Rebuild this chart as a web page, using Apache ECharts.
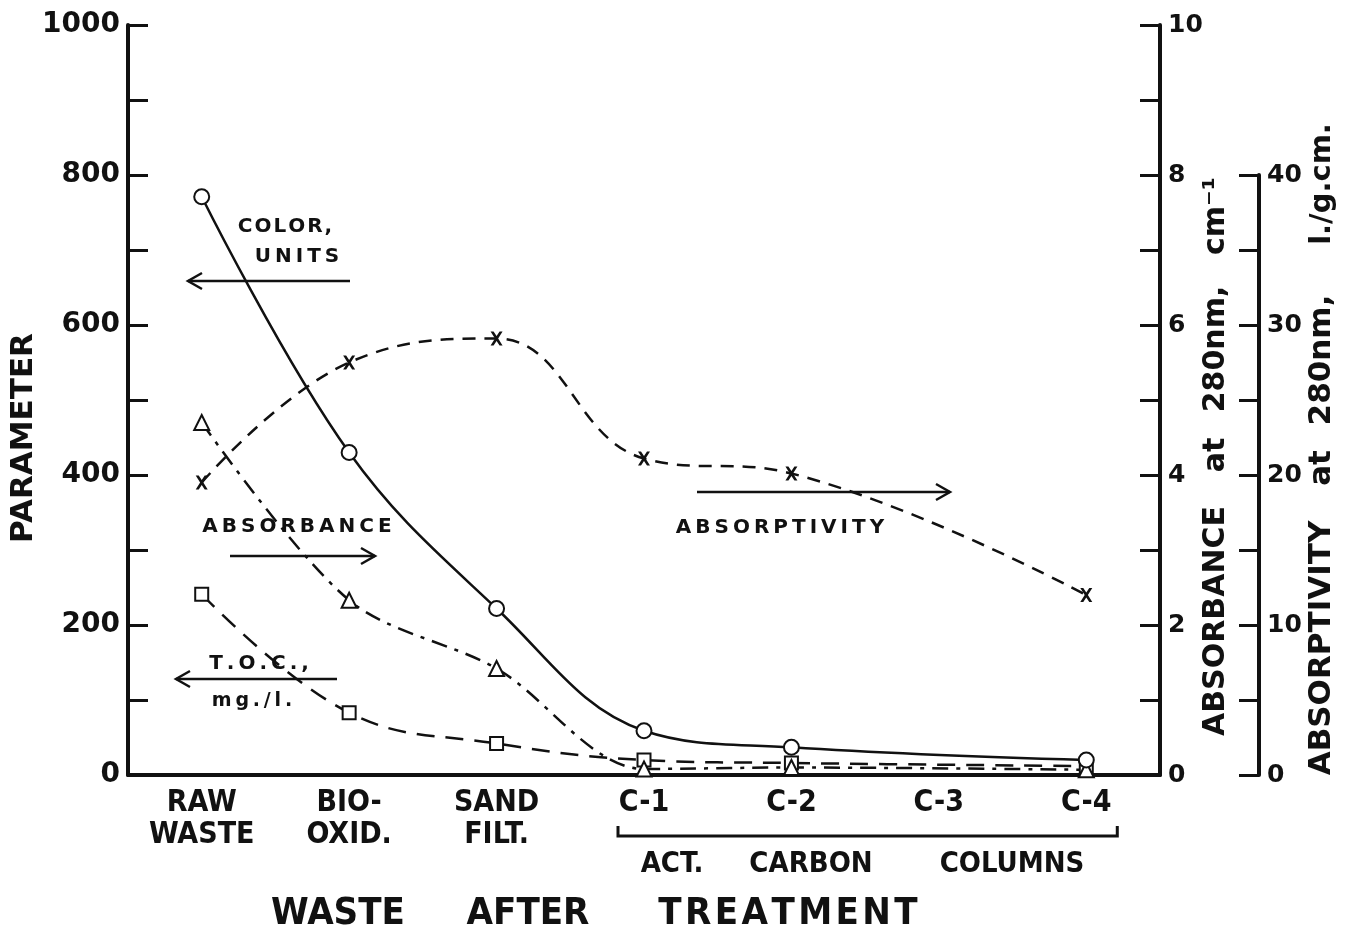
<!DOCTYPE html>
<html>
<head>
<meta charset="utf-8">
<script src="https://cdn.jsdelivr.net/npm/echarts@6/dist/echarts.min.js"></script>
<style>
html,body{margin:0;padding:0;background:#fff;}
#chart{width:1352px;height:932px;}
</style>
</head>
<body>
<div id="chart"></div>
<script>
// ---- data ----
const categories = ['RAW\nWASTE', 'BIO-\nOXID.', 'SAND\nFILT.', 'C-1', 'C-2', 'C-3', 'C-4'];
const colorUnits = [771, 430, 222, 59, 37, null, 20];          // left axis (PARAMETER)
const tocValues = [241, 83, 42, 20, 16, null, 12];             // left axis (PARAMETER)
const absorbance = [4.7, 2.33, 1.42, 0.08, 0.1, null, 0.07];   // absorbance axis, cm-1
const absorptivity = [19.5, 27.5, 29.1, 21.1, 20.1, null, 12.0]; // absorptivity axis, l./g.cm.
const leftTicks = [0, 200, 400, 600, 800, 1000];
const absorbanceTicks = [0, 2, 4, 6, 8, 10];
const absorptivityTicks = [0, 10, 20, 30, 40];

const INK = '#111';
const BOLD = "'DejaVu Sans', 'Liberation Sans', sans-serif";
const NARROW = "'Liberation Sans Narrow', 'DejaVu Sans Condensed', 'Liberation Sans', sans-serif";

const chart = echarts.init(document.getElementById('chart'), null, {renderer: 'canvas'});

const xPath = 'path://M0,0 L3,0 L6,4.2 L9,0 L12,0 L7.6,6.5 L12,13 L9,13 L6,8.8 L3,13 L0,13 L4.4,6.5 Z';

function yAxisBase(extra) {
  return Object.assign({
    type: 'value',
    splitLine: {show: false},
    axisLine: {show: true, lineStyle: {color: INK, width: 4}},
    axisTick: {show: true, inside: true, length: 20, lineStyle: {color: INK, width: 3}},
  }, extra);
}

const option = {
  backgroundColor: '#fff',
  animation: false,
  grid: [
    {left: 128, right: 192, top: 25, bottom: 157},
    {left: 128, right: 192, top: 175, bottom: 157}
  ],
  xAxis: [
    {
      type: 'category', gridIndex: 0, data: categories, boundaryGap: true,
      axisLine: {show: true, lineStyle: {color: INK, width: 4}},
      axisTick: {show: false},
      axisLabel: {
        color: INK, fontFamily: NARROW, fontWeight: 'bold', fontSize: 30,
        lineHeight: 32, margin: 12, interval: 0
      }
    },
    {
      type: 'category', gridIndex: 1, data: categories, boundaryGap: true,
      show: false
    }
  ],
  yAxis: [
    yAxisBase({
      gridIndex: 0, position: 'left', min: 0, max: 1000, interval: 100,
      axisLabel: {
        color: INK, fontFamily: BOLD, fontWeight: 'bold', fontSize: 28, margin: 8,
        formatter: v => leftTicks.indexOf(v) >= 0 ? String(v) : ''
      }
    }),
    yAxisBase({
      gridIndex: 0, position: 'right', min: 0, max: 10, interval: 1,
      axisLabel: {
        color: INK, fontFamily: BOLD, fontWeight: 'bold', fontSize: 25, margin: 8,
        formatter: v => absorbanceTicks.indexOf(v) >= 0 ? String(v) : ''
      }
    }),
    yAxisBase({
      gridIndex: 1, position: 'right', offset: 99, min: 0, max: 40, interval: 5,
      axisLabel: {
        color: INK, fontFamily: BOLD, fontWeight: 'bold', fontSize: 25, margin: 8,
        formatter: v => absorptivityTicks.indexOf(v) >= 0 ? String(v) : ''
      }
    })
  ],
  series: [
    {
      name: 'COLOR, UNITS', type: 'line', xAxisIndex: 0, yAxisIndex: 0,
      data: colorUnits, connectNulls: true, smooth: 0.38,
      symbol: 'emptyCircle', symbolSize: 15, z: 5,
      lineStyle: {color: INK, width: 2.5},
      itemStyle: {color: INK, borderColor: INK, borderWidth: 2.5}
    },
    {
      name: 'T.O.C., mg./l.', type: 'line', xAxisIndex: 0, yAxisIndex: 0,
      data: tocValues, connectNulls: true, smooth: 0.4,
      symbol: 'emptyRect', symbolSize: 13, z: 4,
      lineStyle: {color: INK, width: 2.5, type: [18, 11]},
      itemStyle: {color: INK, borderColor: INK, borderWidth: 3}
    },
    {
      name: 'ABSORBANCE', type: 'line', xAxisIndex: 0, yAxisIndex: 1,
      data: absorbance, connectNulls: true, smooth: 0.32,
      symbol: 'emptyTriangle', symbolSize: 15, z: 4,
      lineStyle: {color: INK, width: 2.5, type: [16, 8, 4, 8]},
      itemStyle: {color: INK, borderColor: INK, borderWidth: 3}
    },
    {
      name: 'ABSORPTIVITY', type: 'line', xAxisIndex: 1, yAxisIndex: 2,
      data: absorptivity, connectNulls: true, smooth: 0.42,
      symbol: xPath, symbolSize: [12, 14],
      lineStyle: {color: INK, width: 2.5, type: [13, 9]},
      itemStyle: {color: INK, borderWidth: 0}
    }
  ]
};
chart.setOption(option);

// ---- annotations (text, arrows, bracket) ----
function arrow(x1, x2, y) {
  const dir = x2 > x1 ? 1 : -1;
  return [
    {type: 'line', shape: {x1: x1, y1: y, x2: x2, y2: y}, style: {stroke: INK, lineWidth: 2.5}, silent: true},
    {type: 'polyline', shape: {points: [[x2 - dir * 14, y - 8], [x2, y], [x2 - dir * 14, y + 8]]},
     style: {stroke: INK, lineWidth: 2.5, fill: null}, silent: true}
  ];
}
function spaced(t, sp) { return t.split('').join(sp || '\u2009'); }
function txt(t, x, y, size, opts) {
  opts = opts || {};
  return {
    type: 'text', x: x, y: y, rotation: opts.rotation || 0, silent: true,
    style: {
      text: t, fill: INK, fontFamily: opts.family || BOLD, fontWeight: 'bold', fontSize: size,
      align: opts.align || 'center', verticalAlign: 'middle'
    }
  };
}
const ROT = {rotation: Math.PI / 2};
const HAIR = '\u200A';

// bracket under the carbon columns, anchored on category positions
const c1 = chart.convertToPixel({xAxisIndex: 0}, 'C-1');
const c4 = chart.convertToPixel({xAxisIndex: 0}, 'C-4');
const bx1 = c1 - 26, bx2 = c4 + 31, by = 836;

const gfx = [].concat(
  [txt('PARAMETER', 24, 438, 31, ROT)],
  [txt('ABSORBANCE', 1216, 621, 30, ROT), txt('at', 1216, 455, 30, ROT),
   txt('280nm,', 1216, 349, 30, ROT), txt('cm\u207B\u00B9', 1216, 216, 30, ROT)],
  [txt('ABSORPTIVITY', 1322, 648, 31, ROT), txt('at', 1322, 468, 31, ROT),
   txt('280nm,', 1322, 360, 31, ROT), txt('l./g.cm.', 1322, 184, 29, ROT)],
  [txt(spaced('COLOR,', HAIR), 285, 227, 20), txt(spaced('UNITS'), 297, 257, 20)],
  arrow(350, 188, 281),
  [txt(spaced('ABSORBANCE'), 297, 527, 20)],
  arrow(230, 375, 556),
  [txt(spaced('T.O.C.,'), 259, 664, 20), txt(spaced('mg./l.'), 252, 701, 19)],
  arrow(337, 176, 679),
  [txt(spaced('ABSORPTIVITY'), 780, 528, 20)],
  arrow(697, 950, 492),
  [{type: 'polyline', silent: true,
    shape: {points: [[bx1, by - 10], [bx1, by], [bx2, by], [bx2, by - 10]]},
    style: {stroke: INK, lineWidth: 3, fill: null}}],
  [txt('ACT.', 672, 864, 29, {family: NARROW}), txt('CARBON', 811, 864, 29, {family: NARROW}),
   txt('COLUMNS', 1012, 864, 29, {family: NARROW})],
  [txt('WASTE', 338, 914, 38, {family: NARROW}), txt('AFTER', 528, 914, 38, {family: NARROW}),
   txt(spaced('TREATMENT', HAIR), 788, 914, 38, {family: NARROW})]
);
chart.setOption({graphic: gfx});
</script>
</body>
</html>
